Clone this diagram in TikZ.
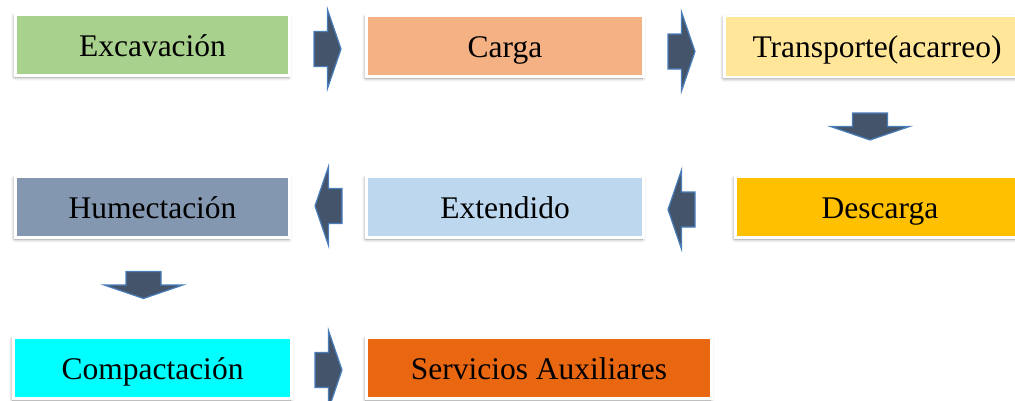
\documentclass[tikz,border=0pt]{standalone}
\usepackage{fontspec}
\setmainfont{Liberation Serif}
\usetikzlibrary{shadows.blur}
\definecolor{cExc}{HTML}{A9D18E}
\definecolor{cCar}{HTML}{F4B183}
\definecolor{cTra}{HTML}{FFE699}
\definecolor{cDes}{HTML}{FFC000}
\definecolor{cExt}{HTML}{BDD7EE}
\definecolor{cHum}{HTML}{8497B0}
\definecolor{cCom}{HTML}{00FFFF}
\definecolor{cSer}{HTML}{EA6712}
\definecolor{arrFill}{HTML}{44546A}
\definecolor{arrLine}{HTML}{4A7EBB}
\tikzset{
  stepbox/.style={draw=white, line width=2.8pt, minimum height=61pt, inner sep=0pt,
    text height=22.5pt, text depth=0pt,
    font=\fontsize{31.5}{36}\selectfont,
    blur shadow={shadow xshift=-0.8pt, shadow yshift=-1.5pt, shadow blur radius=3.5pt, shadow opacity=45}},
  barrow/.pic={
    \draw[arrFill, fill=arrFill, draw=arrLine, line width=1.2pt, line join=miter]
      (-13.5,-17.5) -- (0,-17.5) -- (0,-39.5) -- (13.5,0) -- (0,39.5) -- (0,17.5) -- (-13.5,17.5) -- cycle;
  }
}
\begin{document}
\begin{tikzpicture}[x=1pt,y=-1pt]
\useasboundingbox (0,0) rectangle (1015,400);
\clip (0,0) rectangle (1015,400);
% row 1
\node[stepbox, fill=cExc, minimum width=274pt] (exc) at (152.5,45) {Excavación};
\node[stepbox, fill=cCar, minimum width=277pt] (car) at (505,46) {Carga};
\node[stepbox, fill=cTra, minimum width=305pt] (tra) at (877,46.5) {Transporte(acarreo)};
% row 2
\node[stepbox, fill=cDes, minimum width=289pt] (des) at (880,207) {Descarga};
\node[stepbox, fill=cExt, minimum width=277pt] (ext) at (505,207) {Extendido};
\node[stepbox, fill=cHum, minimum width=274pt] (hum) at (152.5,207) {Humectación};
% row 3
\node[stepbox, fill=cCom, minimum width=278pt] (com) at (152.5,368) {Compactación};
\node[stepbox, fill=cSer, minimum width=345pt] (ser) at (539,368) {Servicios Auxiliares};
% block arrows
\pic at (327.5,49) {barrow};
\pic at (681.5,51.5) {barrow};
\pic[rotate=-90] at (870,126.5) {barrow};
\pic[rotate=180] at (681.5,209.5) {barrow};
\pic[rotate=180] at (328.5,206) {barrow};
\pic[rotate=-90] at (143.5,285) {barrow};
\pic at (328.5,370) {barrow};
\end{tikzpicture}
\end{document}
